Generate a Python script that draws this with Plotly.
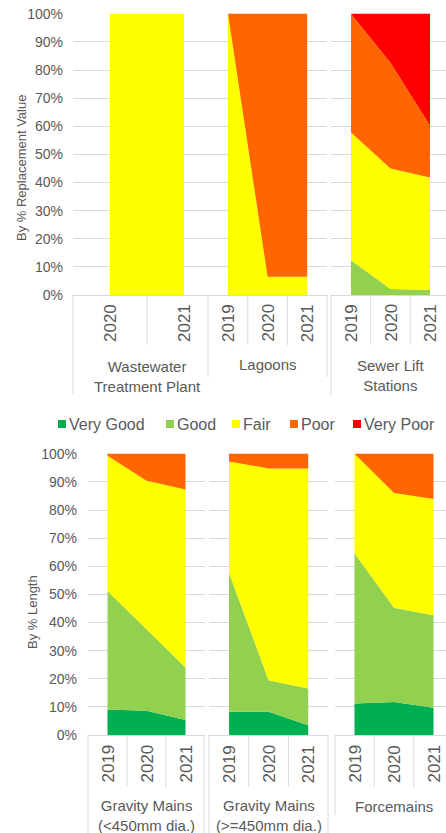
import plotly.graph_objects as go

W, H = 446, 833

# ---------------- data ----------------
conditions = ["Very Good", "Good", "Fair", "Poor", "Very Poor"]
condition_colors = ["#00B050", "#92D050", "#FFFF00", "#FF6600", "#FF0000"]

# Top row (By % Replacement Value)
wtp_years = ["2020", "2021"]
wtp_very_good = [0, 0]
wtp_good = [0, 0]
wtp_fair = [100, 100]
wtp_poor = [0, 0]
wtp_very_poor = [0, 0]

lagoon_years = ["2019", "2020", "2021"]
lagoon_very_good = [0, 0, 0]
lagoon_good = [0, 0, 0]
lagoon_fair = [100, 6.5, 6.5]
lagoon_poor = [0, 93.5, 93.5]
lagoon_very_poor = [0, 0, 0]

lift_years = ["2019", "2020", "2021"]
lift_very_good = [0, 0, 0]
lift_good = [12.4, 2.1, 1.8]
lift_fair = [45.4, 42.9, 40.0]
lift_poor = [42.2, 37.6, 18.5]
lift_very_poor = [0, 17.4, 39.7]

# Bottom row (By % Length)
gm_small_years = ["2019", "2020", "2021"]
gm_small_very_good = [9.1, 8.6, 5.3]
gm_small_good = [42.1, 29.0, 18.7]
gm_small_fair = [48.1, 52.8, 63.3]
gm_small_poor = [0.7, 9.6, 12.7]
gm_small_very_poor = [0, 0, 0]

gm_large_years = ["2019", "2020", "2021"]
gm_large_very_good = [8.3, 8.3, 3.5]
gm_large_good = [49.4, 11.2, 13.0]
gm_large_fair = [39.6, 75.3, 78.3]
gm_large_poor = [2.7, 5.2, 5.2]
gm_large_very_poor = [0, 0, 0]

force_years = ["2019", "2020", "2021"]
force_very_good = [11.2, 11.7, 9.7]
force_good = [53.4, 33.6, 32.9]
force_fair = [35.4, 40.8, 41.3]
force_poor = [0, 13.9, 16.1]
force_very_poor = [0, 0, 0]

group_labels = ["Wastewater<br>Treatment Plant", "Lagoons", "Sewer Lift<br>Stations",
                "Gravity Mains<br>(<450mm dia.)", "Gravity Mains<br>(>=450mm dia.)", "Forcemains"]
y_titles = ["By % Replacement Value", "By % Length"]
y_ticks = list(range(0, 101, 10))

# ---------------- layout geometry (pixels) ----------------
def px(x):
    return x / W

def py(y):
    return 1 - y / H

GRAY = "#595959"
LINE = "#D9D9D9"
FONT = "Liberation Sans, Arial, sans-serif"

rows = [
    dict(top=13, bottom=295, div_bottom=345, year_y=323),
    dict(top=453, bottom=735, div_bottom=787, year_y=764),
]

panels = [
    dict(row=0, years=wtp_years, series=[wtp_very_good, wtp_good, wtp_fair, wtp_poor, wtp_very_poor],
         left=73, right=208, c0=110, step=74, lb=395, rline=None, rb=None, label_y=376),
    dict(row=0, years=lagoon_years, series=[lagoon_very_good, lagoon_good, lagoon_fair, lagoon_poor, lagoon_very_poor],
         left=208, right=327, c0=228, step=39.6, lb=377, rline=327, rb=377, label_y=364),
    dict(row=0, years=lift_years, series=[lift_very_good, lift_good, lift_fair, lift_poor, lift_very_poor],
         left=331, right=446, c0=351, step=39.5, lb=395, rline=None, rb=None, label_y=375),
    dict(row=1, years=gm_small_years, series=[gm_small_very_good, gm_small_good, gm_small_fair, gm_small_poor, gm_small_very_poor],
         left=88, right=205, c0=107.5, step=39, lb=833, rline=204, rb=833, label_y=815),
    dict(row=1, years=gm_large_years, series=[gm_large_very_good, gm_large_good, gm_large_fair, gm_large_poor, gm_large_very_poor],
         left=209, right=328, c0=229, step=39.6, lb=833, rline=328, rb=833, label_y=815),
    dict(row=1, years=force_years, series=[force_very_good, force_good, force_fair, force_poor, force_very_poor],
         left=335, right=446, c0=354.5, step=39.5, lb=815, rline=None, rb=None, label_y=806),
]

fig = go.Figure()
layout = dict(
    width=W, height=H, autosize=False,
    margin=dict(l=0, r=0, t=0, b=0, pad=0, autoexpand=False),
    paper_bgcolor="white", plot_bgcolor="rgba(0,0,0,0)",
    showlegend=False,
    font=dict(family=FONT, color=GRAY),
)
shapes = []
annotations = []

for k, p in enumerate(panels):
    idx = k + 1
    xa = "x" if idx == 1 else f"x{idx}"
    ya = "y" if idx == 1 else f"y{idx}"
    r = rows[p["row"]]
    n = len(p["years"])
    xs = list(range(n))
    for name, color, vals in zip(conditions, condition_colors, p["series"]):
        fig.add_trace(go.Scatter(
            x=xs, y=vals, name=name, mode="lines",
            line=dict(width=0, color=color), fillcolor=color,
            stackgroup=f"g{idx}", xaxis=xa, yaxis=ya, hoverinfo="skip",
        ))
    x_lo = (p["left"] - p["c0"]) / p["step"]
    x_hi = (p["right"] - p["c0"]) / p["step"]
    first = k in (0, 3)
    layout["xaxis" if idx == 1 else f"xaxis{idx}"] = dict(
        domain=[px(p["left"]), px(p["right"])], range=[x_lo, x_hi],
        anchor=ya, showgrid=False, zeroline=False, showticklabels=False,
        showline=True, linecolor=LINE, linewidth=1, fixedrange=True,
        automargin=False,
    )
    layout["yaxis" if idx == 1 else f"yaxis{idx}"] = dict(
        domain=[py(r["bottom"]), py(r["top"])], range=[0, 100.3],
        anchor=xa, showgrid=True, gridcolor=LINE, gridwidth=1, zeroline=False,
        tickvals=y_ticks, ticktext=[f"{v}%" for v in y_ticks],
        showticklabels=first, ticks="", ticklabelstandoff=9 if k == 0 else 10,
        tickfont=dict(size=14, color=GRAY, family=FONT), fixedrange=True,
        automargin=False,
    )
    # category box lines
    shapes.append(dict(type="line", xref="paper", yref="paper",
                       x0=px(p["left"]), x1=px(p["left"]), y0=py(r["bottom"]), y1=py(p["lb"]),
                       line=dict(color=LINE, width=1)))
    if p["rline"] is not None:
        shapes.append(dict(type="line", xref="paper", yref="paper",
                           x0=px(p["rline"]), x1=px(p["rline"]), y0=py(r["bottom"]), y1=py(p["rb"]),
                           line=dict(color=LINE, width=1)))
    for i in range(n - 1):
        shapes.append(dict(type="line", xref=xa, yref="paper",
                           x0=i + 0.5, x1=i + 0.5, y0=py(r["bottom"]), y1=py(r["div_bottom"]),
                           line=dict(color=LINE, width=1)))
    # year labels
    for i, yr in enumerate(p["years"]):
        annotations.append(dict(x=i, xref=xa, y=py(r["year_y"]), yref="paper",
                                text=yr, textangle=-90, showarrow=False,
                                xanchor="center", yanchor="middle",
                                font=dict(size=17, color=GRAY, family=FONT)))
    # group label
    annotations.append(dict(x=(n - 1) / 2, xref=xa, y=py(p["label_y"]), yref="paper",
                            text=group_labels[k], showarrow=False,
                            xanchor="center", yanchor="middle",
                            font=dict(size=15, color=GRAY, family=FONT)))

# axis titles
annotations.append(dict(x=px(22), y=py(168), xref="paper", yref="paper", text=y_titles[0],
                        textangle=-90, showarrow=False, xanchor="center", yanchor="middle",
                        font=dict(size=13, color=GRAY, family=FONT)))
annotations.append(dict(x=px(32), y=py(612), xref="paper", yref="paper", text=y_titles[1],
                        textangle=-90, showarrow=False, xanchor="center", yanchor="middle",
                        font=dict(size=13, color=GRAY, family=FONT)))

# legend
legend_marker_x = [58, 166, 232, 290, 353]
legend_y = 424
for name, color, mx in zip(conditions, condition_colors, legend_marker_x):
    shapes.append(dict(type="rect", xref="paper", yref="paper",
                       x0=px(mx), x1=px(mx + 8), y0=py(legend_y - 4), y1=py(legend_y + 4),
                       fillcolor=color, line=dict(width=0)))
    annotations.append(dict(x=px(mx + 9), y=py(legend_y), xref="paper", yref="paper",
                            text=name, showarrow=False, xanchor="left", yanchor="middle",
                            font=dict(size=16, color=GRAY, family=FONT)))

layout["shapes"] = shapes
layout["annotations"] = annotations
fig.update_layout(**layout)
fig.write_html(
    "out.html",
    config={"displayModeBar": False},
    post_script="document.body.style.margin='0';document.body.style.overflow='hidden';",
)
